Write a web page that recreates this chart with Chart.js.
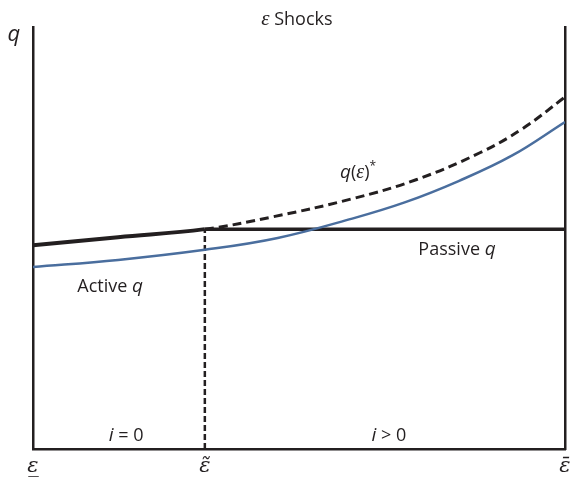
<!DOCTYPE html>
<html lang="en">
<head>
    <meta charset="UTF-8">
    <title>Epsilon Shocks</title>
    <script src="https://cdn.jsdelivr.net/npm/chart.js"></script>
    <style>
        html, body { margin: 0; padding: 0; background: #fff; }
        #wrap { width: 585px; height: 487px; }
    </style>
</head>
<body>
    <div id="wrap"><canvas id="myChart"></canvas></div>
    <script>
        // values (x: 0 = lower bound of eps, 100 = upper bound)
        const activeX = [0, 16, 32.3, 46, 60, 70, 80, 90, 100];
        const activeQ = [43.1, 44.8, 47.2, 50.0, 54.6, 58.5, 63.5, 69.5, 77.5];
        const starX = [0, 16, 32.3, 45, 60, 72, 84, 92, 100];
        const starQ = [48.3, 50.2, 52.1, 55.0, 59.3, 63.8, 70.2, 75.9, 83.4];
        const epsTilde = 32.3;
        const passiveQ = 52.1;
        const tickVals = [0, epsTilde, 100];
        const tickLabels = ['\u03B5\u0332', '\u03B5\u0303', '\u03B5\u0304'];

        const ink = '#231f20';
        const blue = '#4a6e9e';

        const toPts = (xs, ys) => xs.map((x, i) => ({ x: x, y: ys[i] }));

        // text runs: [text, font, dy]
        const sans = '"Open Sans", sans-serif';
        const notes = [
            { x: -3.6, y: 98.1, runs: [['q', 'italic 22px ' + sans]] },
            { x: 49.6, y: 101.8, runs: [['\u03B5', 'italic 21px "Liberation Serif"'], [' Shocks', '18px ' + sans]] },
            { x: 61.1, y: 65.4, runs: [['q', 'italic 19px ' + sans], ['(', '18px ' + sans], ['\u03B5', 'italic 20px "Liberation Serif"'], [')', '18px ' + sans], ['*', '12px ' + sans, -6]] },
            { x: 79.7, y: 47.2, runs: [['Passive ', '18px ' + sans], ['q', 'italic 19px ' + sans]] },
            { x: 14.5, y: 38.4, runs: [['Active ', '18px ' + sans], ['q', 'italic 19px ' + sans]] },
            { x: 17.5, y: 3.1, runs: [['i', 'italic 19px ' + sans], [' = 0', '18px ' + sans]] },
            { x: 66.9, y: 3.1, runs: [['i', 'italic 19px ' + sans], [' > 0', '18px ' + sans]] }
        ];

        const notesPlugin = {
            id: 'notes',
            afterDraw(chart) {
                const c = chart.ctx;
                const sx = chart.scales.x, sy = chart.scales.y;
                c.save();
                c.fillStyle = ink;
                c.textBaseline = 'middle';
                c.textAlign = 'left';
                notes.forEach(n => {
                    let w = 0;
                    n.runs.forEach(r => { c.font = r[1]; w += c.measureText(r[0]).width; });
                    let px = sx.getPixelForValue(n.x) - w / 2;
                    const py = sy.getPixelForValue(n.y);
                    n.runs.forEach(r => {
                        c.font = r[1];
                        c.fillText(r[0], px, py + (r[2] || 0));
                        px += c.measureText(r[0]).width;
                    });
                });
                c.restore();
            }
        };

        const ctx = document.getElementById('myChart').getContext('2d');
        const myChart = new Chart(ctx, {
            type: 'line',
            data: {
                datasets: [
                    {
                        label: 'Active q',
                        data: toPts(activeX, activeQ),
                        borderColor: blue,
                        borderWidth: 2.5,
                        tension: 0.4
                    },
                    {
                        label: 'q(eps)*',
                        data: toPts(starX, starQ),
                        borderColor: ink,
                        borderWidth: 3,
                        tension: 0.4,
                        segment: {
                            borderDash: c => c.p0.parsed.x >= epsTilde - 0.01 ? [9, 5] : undefined,
                            borderWidth: c => c.p0.parsed.x >= epsTilde - 0.01 ? 3 : 4
                        }
                    },
                    {
                        label: 'Passive q',
                        data: [{ x: epsTilde, y: passiveQ }, { x: 100, y: passiveQ }],
                        borderColor: ink,
                        borderWidth: 3.5
                    },
                    {
                        label: 'eps tilde',
                        data: [{ x: epsTilde, y: 0 }, { x: epsTilde, y: passiveQ }],
                        borderColor: ink,
                        borderWidth: 2.5,
                        borderDash: [6, 3]
                    }
                ]
            },
            options: {
                responsive: true,
                maintainAspectRatio: false,
                animation: false,
                events: [],
                layout: { padding: { left: 33, right: 20, top: 27, bottom: 0 } },
                elements: { point: { radius: 0 } },
                plugins: {
                    legend: { display: false },
                    tooltip: { enabled: false }
                },
                scales: {
                    x: {
                        type: 'linear',
                        min: 0,
                        max: 100,
                        grid: { display: false, drawTicks: false },
                        border: { display: true, color: ink, width: 2.5 },
                        afterBuildTicks: axis => { axis.ticks = tickVals.map(v => ({ value: v })); },
                        afterFit: axis => { axis.height = 38; },
                        ticks: {
                            autoSkip: false,
                            maxRotation: 0,
                            padding: 5,
                            color: ink,
                            font: { family: 'DejaVu Serif', style: 'italic', size: 21 },
                            callback: (v, i) => tickLabels[i]
                        }
                    },
                    y: {
                        min: 0,
                        max: 100,
                        grid: { display: false, drawTicks: false },
                        border: { display: true, color: ink, width: 2.5 },
                        ticks: { display: false },
                        afterFit: axis => { axis.width = 0; }
                    },
                    y2: {
                        position: 'right',
                        min: 0,
                        max: 100,
                        grid: { display: false, drawTicks: false },
                        border: { display: true, color: ink, width: 2.5 },
                        ticks: { display: false },
                        afterFit: axis => { axis.width = 0; }
                    }
                }
            },
            plugins: [notesPlugin]
        });
    </script>
</body>
</html>
